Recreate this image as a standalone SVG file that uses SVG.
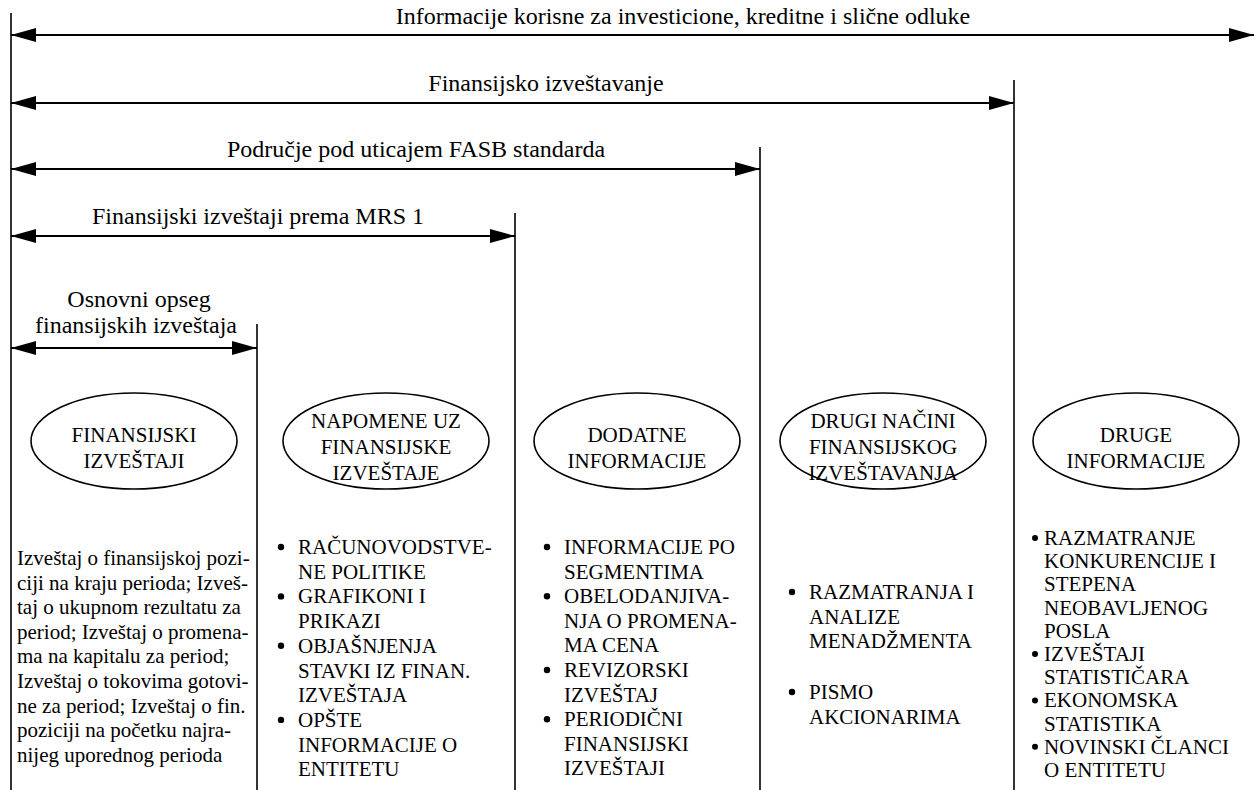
<svg xmlns="http://www.w3.org/2000/svg" width="1257" height="790" viewBox="0 0 1257 790">
<style>
text{font-family:"Liberation Serif","Times New Roman",serif;fill:#000}
.hd{font-size:24px;text-anchor:middle}
.el{font-size:21px;text-anchor:middle}
.bd{font-size:21px}
.vl{stroke:#000;stroke-width:1.6;fill:none}
.ar{stroke:#000;stroke-width:2;fill:none;marker-start:url(#ah);marker-end:url(#ah)}
ellipse{fill:#fff;stroke:#000;stroke-width:1.6}
.bul{fill:#000}
</style>
<defs>
<marker id="ah" markerUnits="userSpaceOnUse" markerWidth="26" markerHeight="14" refX="25" refY="7" orient="auto-start-reverse">
<path d="M0,0 L25,7 L0,14 z" fill="#000"/>
</marker>
</defs>
<rect width="1257" height="790" fill="#fff"/>
<g id="connectors">
<line class="vl" x1="11" y1="13" x2="11" y2="790"/>
<line class="vl" x1="257" y1="324" x2="257" y2="790"/>
<line class="vl" x1="515" y1="213" x2="515" y2="790"/>
<line class="vl" x1="760" y1="147" x2="760" y2="790"/>
<line class="vl" x1="1014" y1="80" x2="1014" y2="790"/>
<line class="ar" x1="11" y1="35" x2="1254" y2="35"/>
<line class="ar" x1="11" y1="103" x2="1014" y2="103"/>
<line class="ar" x1="11" y1="169" x2="760" y2="169"/>
<line class="ar" x1="11" y1="236" x2="515" y2="236"/>
<line class="ar" x1="11" y1="348" x2="257" y2="348"/>
<text class="hd" x="683" y="24">Informacije korisne za investicione, kreditne i slične odluke</text>
<text class="hd" x="546" y="91">Finansijsko izveštavanje</text>
<text class="hd" x="416" y="157">Područje pod uticajem FASB standarda</text>
<text class="hd" x="258" y="224">Finansijski izveštaji prema MRS 1</text>
<text class="hd" x="139" y="307">Osnovni opseg</text>
<text class="hd" x="136" y="333">finansijskih izveštaja</text>
</g>
<g id="node-finansijski">
<ellipse cx="134" cy="441" rx="103" ry="48"/>
<text class="el" x="134" y="442">FINANSIJSKI</text>
<text class="el" x="134" y="468">IZVEŠTAJI</text>
<text class="bd" x="17"><tspan x="17" y="565">Izveštaj o finansijskoj pozi-</tspan><tspan x="17" y="589.6">ciji na kraju perioda; Izveš-</tspan><tspan x="17" y="614.2">taj o ukupnom rezultatu za</tspan><tspan x="17" y="638.8">period; Izveštaj o promena-</tspan><tspan x="17" y="663.4">ma na kapitalu za period;</tspan><tspan x="17" y="688">Izveštaj o tokovima gotovi-</tspan><tspan x="17" y="712.6">ne za period; Izveštaj o fin.</tspan><tspan x="17" y="737.2">poziciji na početku najra-</tspan><tspan x="17" y="761.8">nijeg uporednog perioda</tspan></text>
</g>
<g id="node-napomene">
<ellipse cx="386" cy="441" rx="103" ry="48"/>
<text class="el" x="386" y="428">NAPOMENE UZ</text>
<text class="el" x="386" y="454">FINANSIJSKE</text>
<text class="el" x="386" y="480">IZVEŠTAJE</text>
<circle class="bul" cx="281" cy="547" r="3.2"/>
<circle class="bul" cx="281" cy="596.4" r="3.2"/>
<circle class="bul" cx="281" cy="645.8" r="3.2"/>
<circle class="bul" cx="281" cy="719.9" r="3.2"/>
<text class="bd"><tspan x="298" y="554">RAČUNOVODSTVE-</tspan><tspan x="298" y="578.7">NE POLITIKE</tspan><tspan x="298" y="603.4">GRAFIKONI I</tspan><tspan x="298" y="628.1">PRIKAZI</tspan><tspan x="298" y="652.8">OBJAŠNJENJA</tspan><tspan x="298" y="677.5">STAVKI IZ FINAN.</tspan><tspan x="298" y="702.2">IZVEŠTAJA</tspan><tspan x="298" y="726.9">OPŠTE</tspan><tspan x="298" y="751.6">INFORMACIJE O</tspan><tspan x="298" y="776.3">ENTITETU</tspan></text>
</g>
<g id="node-dodatne">
<ellipse cx="637" cy="441" rx="103" ry="48"/>
<text class="el" x="637" y="442">DODATNE</text>
<text class="el" x="637" y="468">INFORMACIJE</text>
<circle class="bul" cx="547" cy="547" r="3.2"/>
<circle class="bul" cx="547" cy="596.2" r="3.2"/>
<circle class="bul" cx="547" cy="670" r="3.2"/>
<circle class="bul" cx="547" cy="719.2" r="3.2"/>
<text class="bd"><tspan x="564" y="554">INFORMACIJE PO</tspan><tspan x="564" y="578.6">SEGMENTIMA</tspan><tspan x="564" y="603.2">OBELODANJIVA-</tspan><tspan x="564" y="627.8">NJA O PROMENA-</tspan><tspan x="564" y="652.4">MA CENA</tspan><tspan x="564" y="677">REVIZORSKI</tspan><tspan x="564" y="701.6">IZVEŠTAJ</tspan><tspan x="564" y="726.2">PERIODIČNI</tspan><tspan x="564" y="750.8">FINANSIJSKI</tspan><tspan x="564" y="775.4">IZVEŠTAJI</tspan></text>
</g>
<g id="node-drugi-nacini">
<ellipse cx="883" cy="441" rx="103" ry="48"/>
<text class="el" x="883" y="428">DRUGI NAČINI</text>
<text class="el" x="883" y="454">FINANSIJSKOG</text>
<text class="el" x="883" y="480">IZVEŠTAVANJA</text>
<circle class="bul" cx="792" cy="592" r="3.2"/>
<circle class="bul" cx="792" cy="692" r="3.2"/>
<text class="bd"><tspan x="809" y="599">RAZMATRANJA I</tspan><tspan x="809" y="623.5">ANALIZE</tspan><tspan x="809" y="648">MENADŽMENTA</tspan><tspan x="809" y="699">PISMO</tspan><tspan x="809" y="723.5">AKCIONARIMA</tspan></text>
</g>
<g id="node-druge">
<ellipse cx="1136" cy="441" rx="103" ry="48"/>
<text class="el" x="1136" y="442">DRUGE</text>
<text class="el" x="1136" y="468">INFORMACIJE</text>
<circle class="bul" cx="1035" cy="538" r="3"/>
<circle class="bul" cx="1035" cy="654" r="3"/>
<circle class="bul" cx="1035" cy="700.4" r="3"/>
<circle class="bul" cx="1035" cy="746.8" r="3"/>
<text class="bd"><tspan x="1044" y="545">RAZMATRANJE</tspan><tspan x="1044" y="568.2">KONKURENCIJE I</tspan><tspan x="1044" y="591.4">STEPENA</tspan><tspan x="1044" y="614.6">NEOBAVLJENOG</tspan><tspan x="1044" y="637.8">POSLA</tspan><tspan x="1044" y="661">IZVEŠTAJI</tspan><tspan x="1044" y="684.2">STATISTIČARA</tspan><tspan x="1044" y="707.4">EKONOMSKA</tspan><tspan x="1044" y="730.6">STATISTIKA</tspan><tspan x="1044" y="753.8">NOVINSKI ČLANCI</tspan><tspan x="1044" y="777">O ENTITETU</tspan></text>
</g>
</svg>
